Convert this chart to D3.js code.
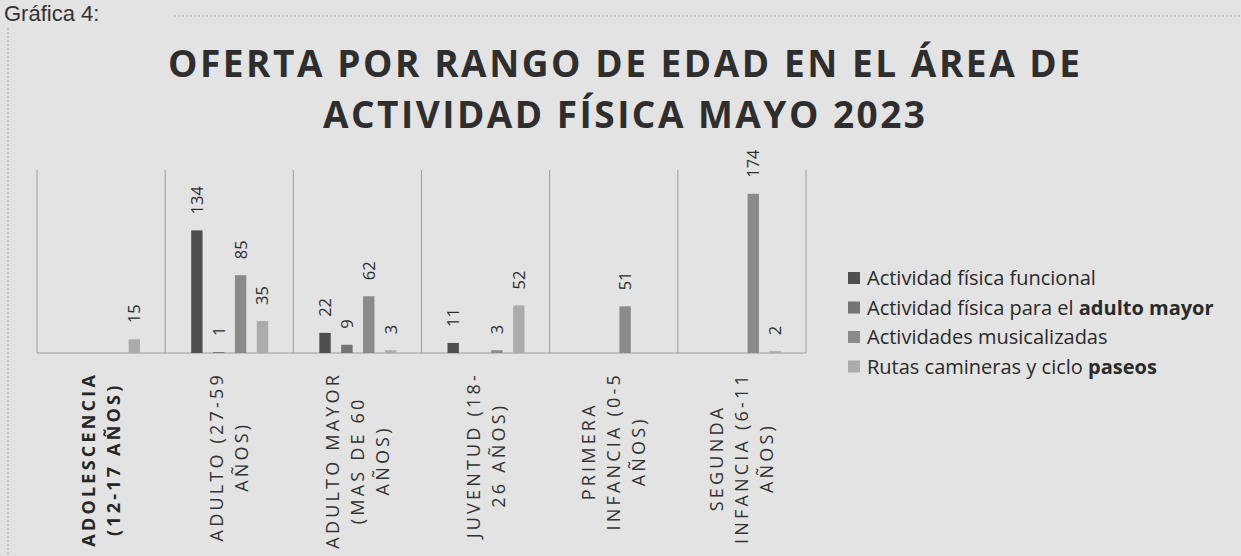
<!DOCTYPE html>
<html>
<head>
<meta charset="utf-8">
<script src="https://cdn.jsdelivr.net/npm/d3@7"></script>
<style>
  html, body { margin: 0; padding: 0; background: #e3e3e3; }
  svg { display: block; }
</style>
</head>
<body>
<svg id="chart" width="1241" height="556"></svg>
<script>
// Datos de la gráfica
const categories = ["Adolescencia", "Adulto", "Adulto mayor", "Juventud", "Primera infancia", "Segunda infancia"];
const categoryLines = [
    ["ADOLESCENCIA", "(12-17 AÑOS)"],
    ["ADULTO (27-59", "AÑOS)"],
    ["ADULTO MAYOR", "(MAS DE 60", "AÑOS)"],
    ["JUVENTUD (18-", "26 AÑOS)"],
    ["PRIMERA", "INFANCIA (0-5", "AÑOS)"],
    ["SEGUNDA", "INFANCIA (6-11", "AÑOS)"]
];
// cada nombre en dos partes: texto normal + parte que sale en negrita en el original
const seriesNames = [
    ["Actividad física funcional", ""],
    ["Actividad física para el ", "adulto mayor"],
    ["Actividades musicalizadas", ""],
    ["Rutas camineras y ciclo ", "paseos"]
];
const funcional     = [null, 134, 22, 11, null, null];
const adultoMayor   = [null, 1, 9, null, null, null];
const musicalizadas = [null, 85, 62, 3, 51, 174];
const rutas         = [15, 35, 3, 52, null, 2];
const titleLines = ["OFERTA POR RANGO DE EDAD EN EL ÁREA DE", "ACTIVIDAD FÍSICA MAYO 2023"];

const seriesValues = [funcional, adultoMayor, musicalizadas, rutas];
const colors = ["#4f4f4f", "#747474", "#8a8a8a", "#ababab"];

const svg = d3.select("#chart");
const font = "'Open Sans', 'Noto Sans', sans-serif";

// encabezado del documento escaneado
svg.append("text")
    .attr("x", 4).attr("y", 21)
    .attr("font-family", "'Liberation Sans', Arial, sans-serif")
    .attr("font-size", 22)
    .attr("fill", "#333")
    .text("Gráfica 4:");

svg.append("line")
    .attr("x1", 174).attr("x2", 1241).attr("y1", 16).attr("y2", 16)
    .attr("stroke", "#a8a8a8").attr("stroke-dasharray", "2,2");
svg.append("line")
    .attr("x1", 8).attr("x2", 8).attr("y1", 28).attr("y2", 556)
    .attr("stroke", "#a8a8a8").attr("stroke-dasharray", "2,2");

// titulo
const titleWidths = [912, 602];
titleLines.forEach((t, i) => {
    svg.append("text")
        .attr("x", 624).attr("y", 77 + i * 51)
        .attr("text-anchor", "middle")
        .attr("font-family", font)
        .attr("font-weight", "bold")
        .attr("font-size", 37)
        .attr("fill", "#2e2e2e")
        .attr("textLength", titleWidths[i])
        .attr("lengthAdjust", "spacing")
        .text(t);
});

// escalas
const x0 = d3.scaleBand().domain(categories).range([37, 806]).padding(0);
const x1 = d3.scaleBand().domain(d3.range(seriesValues.length))
    .range([26, 103]).paddingInner(0.48).paddingOuter(0);
const y = d3.scaleLinear().domain([0, 200]).range([353, 170]);

// lineas verticales entre categorias
const bounds = categories.map(c => x0(c)).concat([x0.range()[1]]);
svg.append("g").selectAll("line")
    .data(bounds)
    .enter()
    .append("line")
    .attr("x1", d => d).attr("x2", d => d)
    .attr("y1", y(200)).attr("y2", y(0))
    .attr("stroke", "#9c9c9c").attr("stroke-width", 1);

svg.append("line")
    .attr("x1", x0.range()[0]).attr("x2", x0.range()[1])
    .attr("y1", y(0)).attr("y2", y(0))
    .attr("stroke", "#9c9c9c").attr("stroke-width", 1);

// barras
const barData = [];
categories.forEach((c, ci) => {
    seriesValues.forEach((vals, si) => {
        if (vals[ci] !== null) barData.push({ cat: c, s: si, v: vals[ci] });
    });
});

svg.append("g").selectAll("rect")
    .data(barData)
    .enter()
    .append("rect")
    .attr("x", d => x0(d.cat) + x1(d.s))
    .attr("y", d => y(d.v))
    .attr("width", x1.bandwidth())
    .attr("height", d => y(0) - y(d.v))
    .attr("fill", d => colors[d.s]);

// etiquetas de datos (rotadas)
svg.append("g").selectAll("text")
    .data(barData)
    .enter()
    .append("text")
    .attr("transform", d => {
        const cx = x0(d.cat) + x1(d.s) + x1.bandwidth() / 2 + 6;
        return "translate(" + cx + "," + (y(d.v) - 16) + ") rotate(-90)";
    })
    .attr("font-family", font)
    .attr("font-size", 16.5)
    .attr("fill", "#2f2f2f")
    .text(d => d.v);

// etiquetas del eje x
const lineH = 25;
categories.forEach((c, ci) => {
    const lines = categoryLines[ci];
    const g = svg.append("g");
    const texts = g.selectAll("text")
        .data(lines)
        .enter()
        .append("text")
        .attr("text-anchor", "middle")
        .attr("x", 0)
        .attr("y", (d, i) => (i - (lines.length - 1) / 2) * lineH + 6.5)
        .attr("font-family", font)
        .attr("font-size", 18)
        .attr("letter-spacing", "3.2px")
        .attr("font-weight", ci === 0 ? "bold" : "normal")
        .attr("fill", ci === 0 ? "#262626" : "#333")
        .text(d => d);
    let longest = 0;
    texts.each(function() { longest = Math.max(longest, this.getComputedTextLength()); });
    const cx = x0(c) + x0.bandwidth() / 2;
    g.attr("transform", "translate(" + cx + "," + (372 + longest / 2) + ") rotate(-90)");
});

// leyenda
const legend = svg.append("g").selectAll("g")
    .data(seriesNames)
    .enter()
    .append("g")
    .attr("transform", (d, i) => "translate(848," + (278 + i * 29.5) + ")");

legend.append("rect")
    .attr("x", 0).attr("y", -6)
    .attr("width", 12).attr("height", 12)
    .attr("fill", (d, i) => colors[i]);

const legendText = legend.append("text")
    .attr("x", 19).attr("y", 7)
    .attr("font-family", font)
    .attr("font-size", 20)
    .attr("fill", "#2a2a2a");
legendText.append("tspan").text(d => d[0]);
legendText.append("tspan").attr("font-weight", "bold").text(d => d[1]);
</script>
</body>
</html>
